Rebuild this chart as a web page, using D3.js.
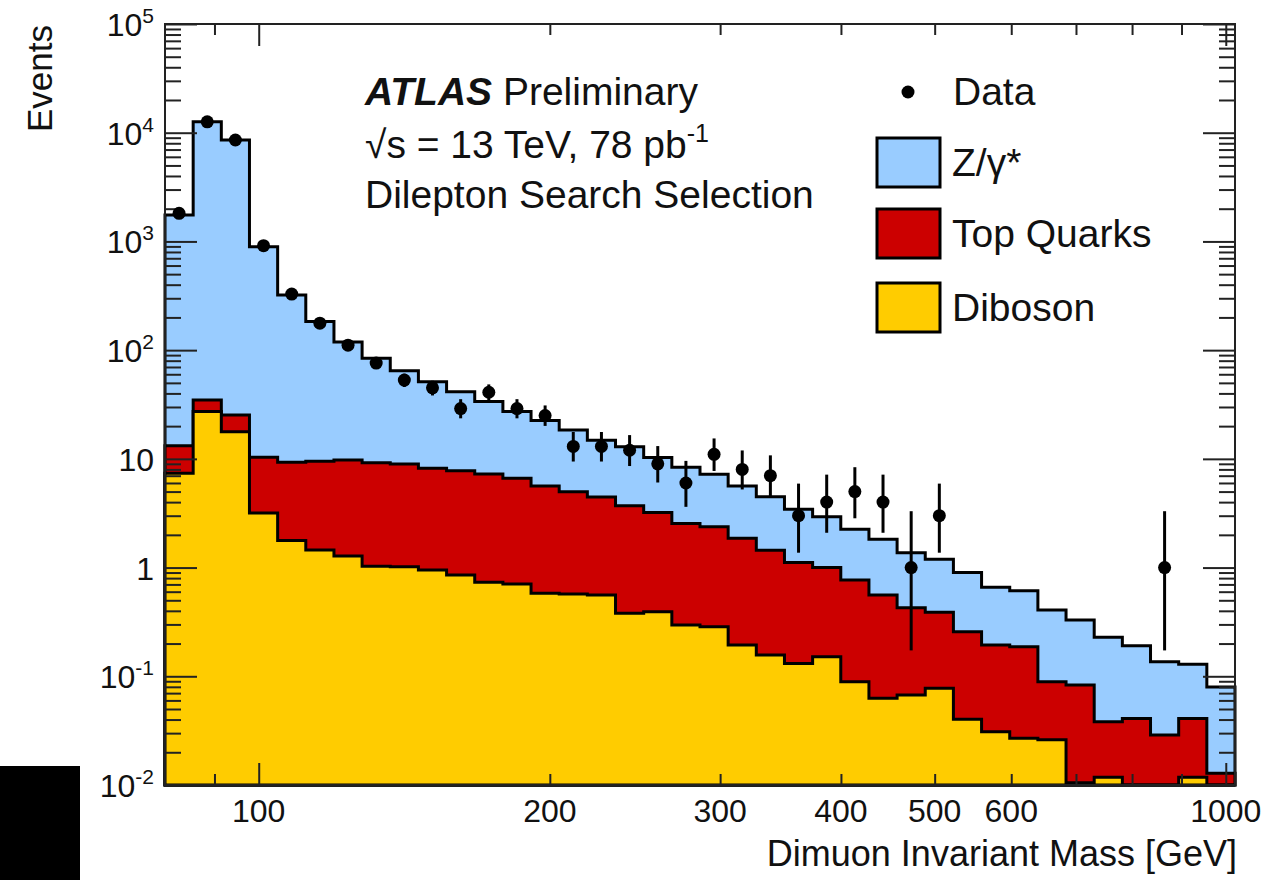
<!DOCTYPE html>
<html>
<head>
<meta charset="utf-8">
<script src="https://cdn.jsdelivr.net/npm/d3@7"></script>
<style>
  body { margin: 0; background: #fff; }
  text { font-family: "Liberation Sans", Arial, Helvetica, sans-serif; fill: #111; }
</style>
</head>
<body>
<svg id="chart" width="1275" height="880"></svg>
<script>
// bin edges of the dimuon mass histogram [GeV] (log-uniform binning)
const binEdges = [80, 85.55, 91.48, 97.82, 104.61, 111.86, 119.62, 127.91, 136.78, 146.26,
  156.41, 167.25, 178.85, 191.25, 204.51, 218.69, 233.86, 250.08, 267.42, 285.96,
  305.79, 326.99, 349.67, 373.91, 399.84, 427.57, 457.22, 488.92, 522.82, 559.08,
  597.85, 639.30, 683.63, 731.04, 781.73, 835.94, 893.90, 955.89, 1022.2];

// expected events per bin
const zgamma = [1737, 12585, 8545, 884, 312, 173.5, 109, 74.8, 55.7, 43.0,
  33.7, 26.4, 20.6, 16.9, 13.4, 10.4, 9.2, 7.1, 5.82, 4.83,
  3.77, 3.04, 2.33, 1.94, 1.48, 1.26, 0.943, 0.802, 0.643, 0.464,
  0.425, 0.318, 0.246, 0.190, 0.150, 0.107, 0.088, 0.067];
const topQuarks = [5.84, 7.6, 7.5, 7.17, 7.53, 8.05, 8.47, 8.19, 7.96, 7.23,
  6.93, 6.51, 5.91, 5.05, 4.42, 3.90, 3.32, 2.81, 2.25, 2.09,
  1.67, 1.29, 0.98, 0.85, 0.679, 0.496, 0.360, 0.311, 0.217, 0.163,
  0.160, 0.063, 0.0725, 0.0264, 0.041, 0.0288, 0.0292, 0.0128];
const diboson = [7.36, 27.2, 17.8, 3.18, 1.77, 1.45, 1.28, 1.03, 1.02, 0.95,
  0.855, 0.732, 0.706, 0.579, 0.571, 0.559, 0.38, 0.393, 0.296, 0.286,
  0.194, 0.157, 0.131, 0.151, 0.089, 0.0627, 0.0673, 0.0775, 0.0402, 0.0309,
  0.0269, 0.0261, 0.0105, 0.0118, 0, 0, 0.0118, 0];

// observed events and their 68% Poisson interval
const dataCounts = [1812, 12600, 8570, 914, 328, 177, 111, 76, 53, 45,
  29, 41, 29, 25, 13, 13, 12, 9, 6, 11,
  8, 7, 3, 4, 5, 4, 1, 3, null, null,
  null, null, null, null, null, 1, null, null];
const dataLow = [1769, 12488, 8477, 884, 310, 164, 100.5, 67.3, 45.8, 38.3,
  23.6, 34.6, 23.6, 20.1, 9.45, 9.45, 8.59, 6.06, 3.62, 7.74,
  5.23, 4.42, 1.37, 2.09, 2.84, 2.09, 0.173, 1.37, null, null,
  null, null, null, null, null, 0.173, null, null];
const dataHigh = [1855, 12712, 8663, 944, 346, 190, 121.5, 84.7, 60.7, 52.3,
  35.4, 48.4, 35.4, 31.0, 17.67, 17.67, 16.54, 13.11, 9.58, 15.41,
  11.95, 10.77, 5.92, 7.16, 8.38, 7.16, 3.30, 5.92, null, null,
  null, null, null, null, null, 3.30, null, null];

const xLabelTicks = [100, 200, 300, 400, 500, 600, 1000];
const xMajorTicks = [100, 1000];
const xMinorTicks = [90, 200, 300, 400, 500, 600, 700, 800, 900];
const yDecades = [-2, -1, 0, 1, 2, 3, 4, 5];

const colors = { zgamma: "#99ccff", top: "#cc0000", diboson: "#ffcc00" };

const svg = d3.select("#chart");
const plotL = 165, plotR = 1235, plotT = 24, plotB = 785;

const x = d3.scaleLog().domain([80, 1022.2]).range([plotL, plotR]);
const y = d3.scaleLog().domain([0.01, 1e5]).range([plotB, plotT]).clamp(true);

// stacked cumulative heights
const stackDib = diboson.slice();
const stackTop = diboson.map((d, i) => d + topQuarks[i]);
const stackAll = stackTop.map((d, i) => d + zgamma[i]);

function stepPoints(vals) {
  let pts = [[binEdges[0], 1e-4]];
  vals.forEach(function (v, i) {
    let vv = v > 0 ? v : 1e-4;
    pts.push([binEdges[i], vv]);
    pts.push([binEdges[i + 1], vv]);
  });
  pts.push([binEdges[binEdges.length - 1], 1e-4]);
  return pts;
}

const line = d3.line().x(d => x(d[0])).y(d => y(d[1]));

const layers = [
  { vals: stackAll, fill: colors.zgamma },
  { vals: stackTop, fill: colors.top },
  { vals: stackDib, fill: colors.diboson }
];

svg.append("g").selectAll("path").data(layers).join("path")
  .attr("d", d => line(stepPoints(d.vals)) + "Z")
  .attr("fill", d => d.fill)
  .attr("stroke", "#000")
  .attr("stroke-width", 3)
  .attr("stroke-linejoin", "miter");

// axes frame + ticks
const axisG = svg.append("g");
axisG.append("rect")
  .attr("x", plotL).attr("y", plotT)
  .attr("width", plotR - plotL).attr("height", plotB - plotT)
  .attr("fill", "none").attr("stroke", "#222").attr("stroke-width", 2);

let yMinor = [];
yDecades.slice(0, -1).forEach(function (k) {
  for (let m = 2; m <= 9; m++) yMinor.push(m * Math.pow(10, k));
});
let yMajor = yDecades.map(k => Math.pow(10, k));

function tickAxis(gen, tr, size) {
  axisG.append("g").attr("transform", tr)
    .call(gen.tickSize(size).tickFormat(""))
    .call(g => g.select(".domain").remove())
    .call(g => g.selectAll("line").attr("stroke", "#222").attr("stroke-width", 2));
}
tickAxis(d3.axisLeft(y).tickValues(yMajor), `translate(${plotL},0)`, -32);
tickAxis(d3.axisLeft(y).tickValues(yMinor), `translate(${plotL},0)`, -16);
tickAxis(d3.axisRight(y).tickValues(yMajor), `translate(${plotR},0)`, -32);
tickAxis(d3.axisRight(y).tickValues(yMinor), `translate(${plotR},0)`, -16);
tickAxis(d3.axisBottom(x).tickValues(xMajorTicks), `translate(0,${plotB})`, -22);
tickAxis(d3.axisBottom(x).tickValues(xMinorTicks), `translate(0,${plotB})`, -11);
tickAxis(d3.axisTop(x).tickValues(xMajorTicks), `translate(0,${plotT})`, -22);
tickAxis(d3.axisTop(x).tickValues(xMinorTicks), `translate(0,${plotT})`, -11);

// x tick labels
svg.append("g").selectAll("text").data(xLabelTicks).join("text")
  .attr("x", d => x(d)).attr("y", 822)
  .attr("text-anchor", "middle")
  .attr("font-size", 32)
  .text(d => d);

// y tick labels
const yLab = svg.append("g").selectAll("text").data(yDecades).join("text")
  .attr("x", 154)
  .attr("y", d => y(Math.pow(10, d)) + 12)
  .attr("text-anchor", "end")
  .attr("font-size", 32);
yLab.each(function (k) {
  const t = d3.select(this);
  if (k === 0) { t.text("1"); return; }
  if (k === 1) { t.text("10"); return; }
  t.append("tspan").text("10");
  t.append("tspan").attr("dy", -13).attr("font-size", 21).text(k);
});

// axis titles
svg.append("text")
  .attr("x", 1237).attr("y", 866)
  .attr("text-anchor", "end").attr("font-size", 36)
  .text("Dimuon Invariant Mass [GeV]");
svg.append("text")
  .attr("transform", "translate(52,25) rotate(-90)")
  .attr("text-anchor", "end").attr("font-size", 35)
  .text("Events");

// data points
const pts = dataCounts.map((n, i) => ({ n: n, lo: dataLow[i], hi: dataHigh[i],
  xc: Math.sqrt(binEdges[i] * binEdges[i + 1]) })).filter(d => d.n !== null);
const dataG = svg.append("g");
dataG.selectAll("line").data(pts).join("line")
  .attr("x1", d => x(d.xc)).attr("x2", d => x(d.xc))
  .attr("y1", d => y(d.lo)).attr("y2", d => y(d.hi))
  .attr("stroke", "#000").attr("stroke-width", 3);
dataG.selectAll("circle").data(pts).join("circle")
  .attr("cx", d => x(d.xc)).attr("cy", d => y(d.n))
  .attr("r", 6.5).attr("fill", "#000");

// ATLAS label
const lab = svg.append("g").attr("font-size", 39);
const t1 = lab.append("text").attr("x", 365).attr("y", 105);
t1.append("tspan").attr("font-weight", "bold").attr("font-style", "italic").text("ATLAS");
t1.append("tspan").text(" Preliminary");
const t2 = lab.append("text").attr("x", 365).attr("y", 158);
t2.append("tspan").text("\u221As = 13 TeV, 78 pb");
t2.append("tspan").attr("dy", -16).attr("font-size", 25).text("-1");
lab.append("text").attr("x", 365).attr("y", 208).text("Dilepton Search Selection");

// legend
const legendItems = ["Z/\u03B3*", "Top Quarks", "Diboson"];
const legendColors = [colors.zgamma, colors.top, colors.diboson];
const legendBoxY = [138, 209, 283];
const leg = svg.append("g");
leg.append("circle").attr("cx", 908).attr("cy", 92).attr("r", 6.5).attr("fill", "#000");
leg.append("text").attr("x", 953).attr("y", 105).attr("font-size", 39).text("Data");
leg.selectAll("rect").data(legendItems).join("rect")
  .attr("x", 877).attr("y", (d, i) => legendBoxY[i])
  .attr("width", 63).attr("height", 49)
  .attr("fill", (d, i) => legendColors[i])
  .attr("stroke", "#000").attr("stroke-width", 3);
leg.selectAll("text.item").data(legendItems).join("text")
  .attr("class", "item")
  .attr("x", 952).attr("y", (d, i) => legendBoxY[i] + 38)
  .attr("font-size", 39)
  .text(d => d);

// black block in the lower-left corner of the original image
svg.append("rect").attr("x", 0).attr("y", 766).attr("width", 80).attr("height", 114).attr("fill", "#000");
</script>
